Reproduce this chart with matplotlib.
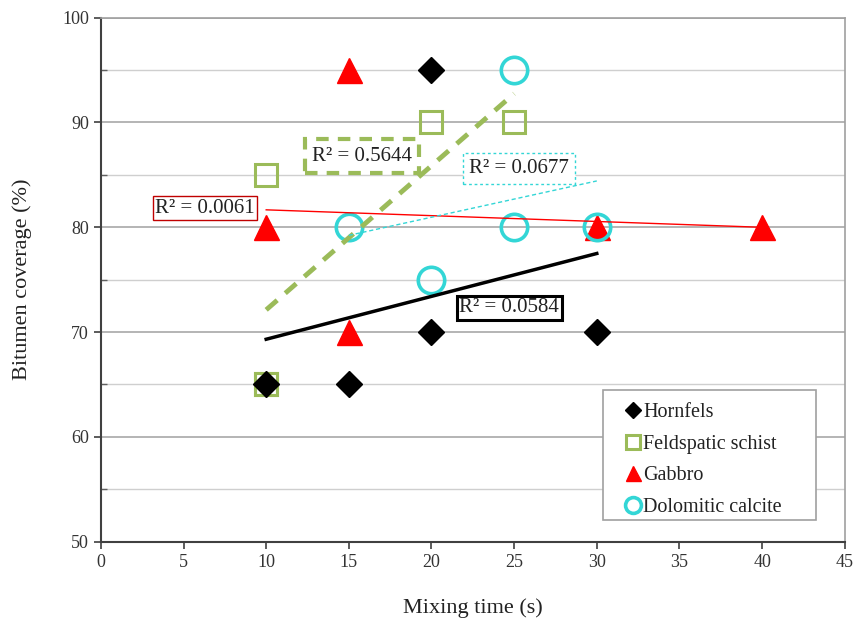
import numpy as np
import matplotlib
matplotlib.use("Agg")
import matplotlib.pyplot as plt
from matplotlib.ticker import MultipleLocator
from matplotlib.patches import Rectangle

plt.rcParams['font.family'] = ['Liberation Serif', 'DejaVu Serif']

# ---- data ----
hornfels_x = [10, 15, 20, 20, 30]
hornfels_y = [65, 65, 95, 70, 70]
feld_x = [10, 10, 10, 20, 25]
feld_y = [65, 65, 85, 90, 90]
gabbro_x = [10, 15, 15, 30, 40]
gabbro_y = [80, 95, 70, 80, 80]
dolo_x = [15, 20, 25, 25, 30]
dolo_y = [80, 75, 95, 80, 80]

series_names = ["Hornfels", "Feldspatic schist", "Gabbro", "Dolomitic calcite"]
r2_labels = ["R² = 0.0584", "R² = 0.5644", "R² = 0.0061", "R² = 0.0677"]
r2_pos = [(24.7, 72.3), (15.8, 86.8), (6.3, 81.8), (25.3, 85.6)]

x_ticks = [0, 5, 10, 15, 20, 25, 30, 35, 40, 45]
y_ticks = [50, 60, 70, 80, 90, 100]

GREEN = '#9BBB59'
RED = '#FF0000'
CYAN = '#33D6D6'

fig = plt.figure(figsize=(8.55, 6.21), dpi=100)
ax = fig.add_axes([0.118, 0.1277, 0.870, 0.8438])

ax.set_xlim(0, 45)
ax.set_ylim(50, 100)
ax.set_xticks(x_ticks)
ax.set_yticks(y_ticks)
ax.yaxis.set_minor_locator(MultipleLocator(5))
ax.grid(True, which='major', axis='y', color='#A8A8A8', lw=1.2, zorder=0)
ax.grid(True, which='minor', axis='y', color='#CFCFCF', lw=1.0, zorder=0)
ax.set_axisbelow(True)

for s in ['left', 'bottom']:
    ax.spines[s].set_color('#404040')
    ax.spines[s].set_linewidth(1.5)
for s in ['top', 'right']:
    ax.spines[s].set_color('#A0A0A0')
    ax.spines[s].set_linewidth(1.2)

ax.tick_params(axis='both', which='major', direction='out', length=5, width=1.2,
               color='#404040', labelsize=13, labelcolor='#333333')
ax.tick_params(axis='y', which='minor', direction='in', length=4, width=1.0, color='#606060')

# markers
ax.plot(feld_x, feld_y, 's', ms=16.5, mfc='none', mec=GREEN, mew=2.2, ls='none',
        label=series_names[1], zorder=3)
ax.plot(hornfels_x, hornfels_y, 'D', ms=13, color='black', ls='none',
        label=series_names[0], zorder=4)
ax.plot(gabbro_x, gabbro_y, '^', ms=18, color=RED, ls='none',
        label=series_names[2], zorder=4)
ax.plot(dolo_x, dolo_y, 'o', ms=19, mfc='none', mec=CYAN, mew=2.6, ls='none',
        label=series_names[3], zorder=4)

# trendlines (least squares)
def trend(xs, ys, **kw):
    xs = np.asarray(xs, float)
    ys = np.asarray(ys, float)
    m, b = np.polyfit(xs, ys, 1)
    xx = np.array([xs.min(), xs.max()])
    ax.plot(xx, m * xx + b, zorder=5, **kw)

trend(hornfels_x, hornfels_y, color='black', lw=2.5)
trend(feld_x, feld_y, color=GREEN, lw=3.5, ls=(0, (3, 2.2)))
trend(gabbro_x, gabbro_y, color=RED, lw=1.0)
trend(dolo_x, dolo_y, color=CYAN, lw=1.0, ls=(0, (3, 2)))

# R² labels
box_styles = [
    dict(ec='black', lw=2.2, ls='-', pad=0.12),
    dict(ec=GREEN, lw=3.0, ls=(0, (3, 2.2)), pad=0.35),
    dict(ec='#C00000', lw=1.0, ls='-', pad=0.12),
    dict(ec=CYAN, lw=1.0, ls=(0, (2, 2)), pad=0.3),
]
for lab, (tx, ty), st in zip(r2_labels, r2_pos, box_styles):
    ax.text(tx, ty, lab, ha='center', va='center', fontsize=15, color='#222222',
            zorder=6,
            bbox=dict(boxstyle='square,pad=%g' % st['pad'], fc='white', ec=st['ec'],
                      lw=st['lw'], ls=st['ls']))

ax.set_xlabel('Mixing time (s)', fontsize=16, color='#222222', labelpad=20)
ax.set_ylabel('Bitumen coverage (%)', fontsize=16, color='#222222', labelpad=22)

# legend frame (Excel-style padding) drawn separately
ax.add_patch(Rectangle((0.675, 0.041), 0.286, 0.2485, transform=ax.transAxes,
                       fc='white', ec='#A0A0A0', lw=1.2, zorder=7))

handles, labels = ax.get_legend_handles_labels()
order = [labels.index(n) for n in series_names]
leg = ax.legend([handles[i] for i in order], [labels[i] for i in order],
                loc='upper left', bbox_to_anchor=(0.706, 0.2647), fontsize=14.5,
                markerscale=0.6, handlelength=0.7, handletextpad=0.15,
                labelspacing=0.62, borderpad=0, borderaxespad=0,
                frameon=False)
leg.set_zorder(8)
for t in leg.get_texts():
    t.set_color('#222222')

fig.savefig('out.png', dpi=100)
